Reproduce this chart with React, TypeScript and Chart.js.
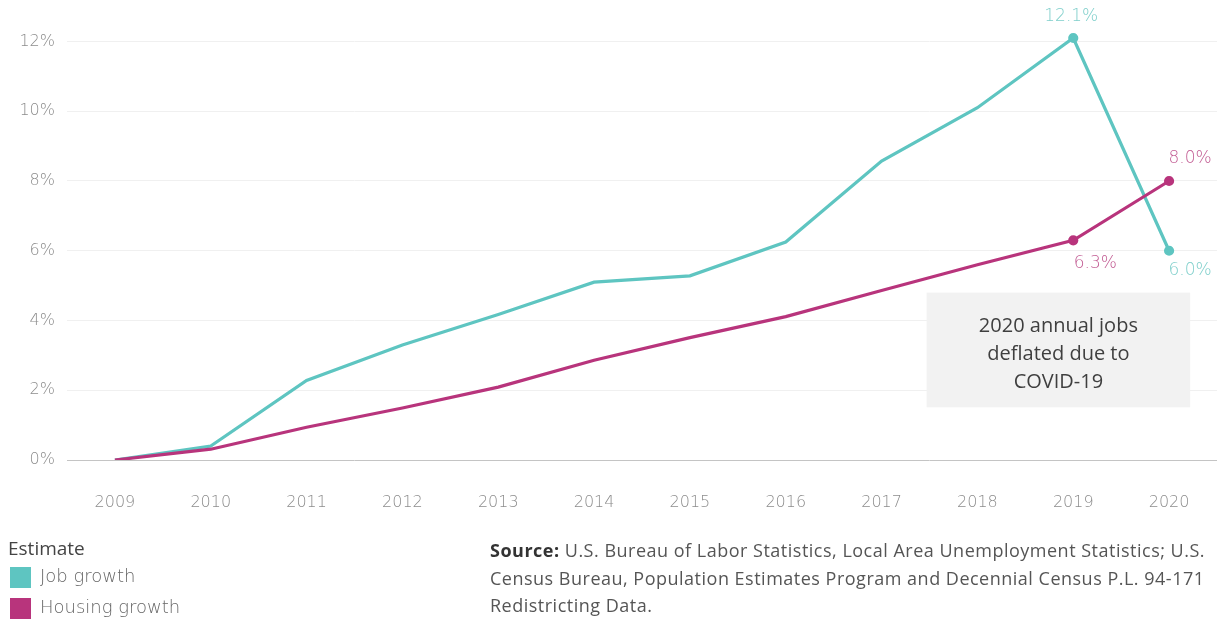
import React, { useEffect, useRef } from "react";
import { Chart, registerables } from "chart.js";

Chart.register(...registerables);

const years = ["2009", "2010", "2011", "2012", "2013", "2014", "2015", "2016", "2017", "2018", "2019", "2020"];
const jobGrowth = [0, 0.4, 2.28, 3.3, 4.17, 5.1, 5.28, 6.25, 8.57, 10.1, 12.1, 6.0];
const housingGrowth = [0, 0.31, 0.94, 1.49, 2.09, 2.86, 3.51, 4.11, 4.86, 5.6, 6.3, 8.0];
const yTicks = [0, 2, 4, 6, 8, 10, 12];
const annotationLines = ["2020 annual jobs", "deflated due to", "COVID-19"];

const TEAL = "#5ec5c1";
const MAGENTA = "#b8347c";
const TEAL_LABEL = "#7fcfcb";
const MAGENTA_LABEL = "#c25c93";
const TICK_FONT = "'DejaVu Sans', sans-serif";

const overlayPlugin = {
  id: "overlay",
  afterDatasetsDraw(chart: any) {
    const ctx = chart.ctx;
    const xs = chart.scales.x;
    const ys = chart.scales.y;
    // annotation box
    const left = xs.getPixelForValue(8.47);
    const right = xs.getPixelForValue(11.22);
    const top = ys.getPixelForValue(4.8);
    const bottom = ys.getPixelForValue(1.51);
    ctx.save();
    ctx.fillStyle = "#f2f2f2";
    ctx.fillRect(left, top, right - left, bottom - top);
    ctx.fillStyle = "#3f3f3f";
    ctx.font = "20px 'Open Sans', sans-serif";
    ctx.textAlign = "center";
    ctx.textBaseline = "middle";
    const cx = (left + right) / 2;
    annotationLines.forEach((l, i) => ctx.fillText(l, cx, top + 34 + i * 28));

    // data labels
    ctx.font = "200 17px " + TICK_FONT;
    const i19 = 10, i20 = 11;
    const p = (ds: number[], i: number) => ({ x: xs.getPixelForValue(i), y: ys.getPixelForValue(ds[i]) });
    let q = p(jobGrowth, i19);
    ctx.fillStyle = TEAL_LABEL;
    ctx.textAlign = "center";
    ctx.fillText(jobGrowth[i19].toFixed(1) + "%", q.x - 2, q.y - 21);
    q = p(jobGrowth, i20);
    ctx.fillText(jobGrowth[i20].toFixed(1) + "%", q.x + 21, q.y + 20);
    ctx.fillStyle = MAGENTA_LABEL;
    q = p(housingGrowth, i20);
    ctx.fillText(housingGrowth[i20].toFixed(1) + "%", q.x + 21, q.y - 22);
    q = p(housingGrowth, i19);
    ctx.fillText(housingGrowth[i19].toFixed(1) + "%", q.x + 22, q.y + 23);
    ctx.restore();
  },
};

export default function App() {
  const ref = useRef<HTMLCanvasElement>(null);
  useEffect(() => {
    const pointR = (ctx: any) => (ctx.dataIndex >= 10 ? 3.5 : 0);
    const chart = new Chart(ref.current!, {
      type: "line",
      data: {
        labels: years,
        datasets: [
          {
            label: "Housing growth",
            data: housingGrowth,
            borderColor: MAGENTA,
            backgroundColor: MAGENTA,
            borderWidth: 3.2,
            pointRadius: pointR,
            pointHoverRadius: pointR,
            tension: 0,
          },
          {
            label: "Job growth",
            data: jobGrowth,
            borderColor: TEAL,
            backgroundColor: TEAL,
            borderWidth: 3.2,
            pointRadius: pointR,
            pointHoverRadius: pointR,
            tension: 0,
          },
        ],
      },
      options: {
        animation: false,
        responsive: false,
        maintainAspectRatio: false,
        layout: { padding: { left: 0, top: 20, right: 7, bottom: 99 } },
        plugins: { legend: { display: false }, tooltip: { enabled: false } },
        scales: {
          x: {
            offset: true,
            grid: { display: false, drawTicks: false },
            border: { display: false },
            ticks: { color: "#8c8c8c", font: { family: TICK_FONT, size: 16, weight: 200 }, padding: 33, maxRotation: 0 },
            afterFit: (s: any) => { s.height = 60; },
          },
          y: {
            min: 0,
            max: 12.57,
            afterBuildTicks: (s: any) => { s.ticks = yTicks.map((v) => ({ value: v })); },
            grid: {
              drawTicks: false,
              color: (c: any) => (c.tick && c.tick.value === 0 ? "#c4c4c4" : "#f0f0f0"),
              lineWidth: 1,
            },
            border: { display: false },
            ticks: {
              color: "#8c8c8c",
              font: { family: TICK_FONT, size: 16, weight: 200 },
              padding: 12,
              callback: (v: any) => v + "%",
            },
            afterFit: (s: any) => { s.width = 67; },
          },
        },
      },
      plugins: [overlayPlugin],
    });
    return () => chart.destroy();
  }, []);

  const sq = (c: string) => ({ display: "inline-block", width: 21, height: 21, background: c, marginRight: 9, verticalAlign: "middle" });
  return (
    <div style={{ position: "fixed", left: 0, top: 0, width: 1224, height: 619, background: "#fff", fontFamily: "'Open Sans', sans-serif" }}>
      <canvas ref={ref} width={1224} height={619} style={{ position: "absolute", left: 0, top: 0 }} />
      <div style={{ position: "absolute", left: 8, top: 536, fontSize: 19, color: "#444", lineHeight: "24px" }}>Estimate</div>
      <div style={{ position: "absolute", left: 10, top: 565, fontSize: 18, color: "#666", lineHeight: "21px", fontFamily: TICK_FONT, fontWeight: 200, whiteSpace: "nowrap" }}>
        <span style={sq(TEAL)} />Job growth
      </div>
      <div style={{ position: "absolute", left: 10, top: 596, fontSize: 18, color: "#666", lineHeight: "21px", fontFamily: TICK_FONT, fontWeight: 200, whiteSpace: "nowrap" }}>
        <span style={sq(MAGENTA)} />Housing growth
      </div>
      <div style={{ position: "absolute", left: 490, top: 537, width: 734, fontSize: 18, color: "#555", lineHeight: "27.5px", fontFamily: "'Open Sans', sans-serif", letterSpacing: "0.5px", whiteSpace: "nowrap" }}>
        <b style={{ color: "#333" }}>Source:</b> U.S. Bureau of Labor Statistics, Local Area Unemployment Statistics; U.S.<br />
        Census Bureau, Population Estimates Program and Decennial Census P.L. 94-171<br />
        Redistricting Data.
      </div>
    </div>
  );
}
